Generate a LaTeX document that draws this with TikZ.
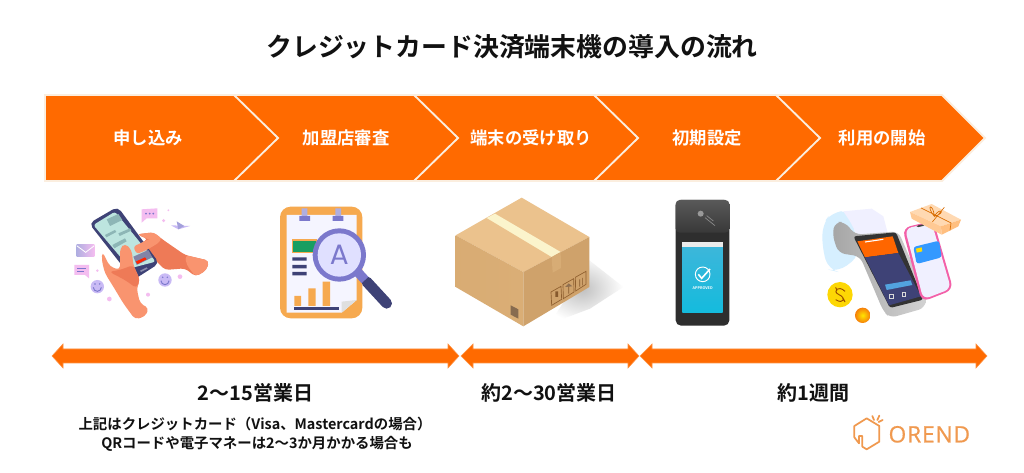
\documentclass[tikz,border=0pt]{standalone}
\usepackage{fontspec}
\setmainfont{Noto Sans CJK JP}[BoldFont={Noto Sans CJK JP Bold}]
\newfontfamily\logofont[LetterSpace=4,FakeBold=0.6]{Open Sans}
\newfontfamily\glyphfont{Poppins}
\usetikzlibrary{shadings}
\definecolor{orng}{HTML}{FF6A00}
\definecolor{cream}{HTML}{FBEEDF}
\definecolor{ink}{HTML}{111111}
\definecolor{skin}{HTML}{F9946F}
\definecolor{skindk}{HTML}{EE7A57}
\definecolor{navy}{HTML}{3E4276}
\definecolor{lila}{HTML}{C9BAF5}
\definecolor{pinkl}{HTML}{F4BDF0}
\definecolor{board}{HTML}{F6A94F}
\definecolor{purp}{HTML}{7B78CC}
\definecolor{boxtop}{HTML}{EBC28D}
\definecolor{boxleft}{HTML}{DAAE76}
\definecolor{boxright}{HTML}{CFA26B}
\definecolor{logoc}{HTML}{F0994F}
\definecolor{scrn}{HTML}{BDE5DF}
\definecolor{bubb}{HTML}{8DB6B6}
\definecolor{posa}{HTML}{3FB6DA}
\definecolor{posb}{HTML}{14BBDD}
\tikzset{
  chev/.style={fill=orng,draw=cream,line width=1.4pt,line join=miter},
  dur/.style={fill=orng,draw=orng!70!cream,line width=.4pt},
  steplabel/.style={text=white,font=\bfseries\fontsize{13pt}{14pt}\selectfont,inner sep=0pt},
  durlabel/.style={text=ink,font=\bfseries\fontsize{15pt}{17pt}\selectfont,inner sep=0pt},
  notelabel/.style={text=ink,font=\bfseries\fontsize{10.8pt}{15pt}\selectfont,inner sep=0pt,align=center},
  titlelabel/.style={text=ink,font=\bfseries\fontsize{19.4pt}{22pt}\selectfont,inner sep=0pt},
  zoomed/.style={scale=0.33333},
}
\begin{document}
\begin{tikzpicture}[x=.75pt,y=-.75pt]
\useasboundingbox (0,0) rectangle (1024,473);
\fill[white] (0,0) rectangle (1024,473);
\node[titlelabel] (title) at (512,47) {クレジットカード決済端末機の導入の流れ};
% chevrons, last first so each tip lies over the next
\draw[chev] (776,95)--(942,95)--(985,138)--(942,181)--(776,181)--cycle;
\draw[chev] (594,95)--(776,95)--(820,138)--(776,181)--(594,181)--cycle;
\draw[chev] (414,95)--(594,95)--(638,138)--(594,181)--(414,181)--cycle;
\draw[chev] (234,95)--(414,95)--(458,138)--(414,181)--(234,181)--cycle;
\draw[chev] (45,95)--(234,95)--(278,138)--(234,181)--(45,181)--cycle;
\node[steplabel] (s1) at (148,138) {申し込み};
\node[steplabel] (s2) at (346,138) {加盟店審査};
\node[steplabel] (s3) at (531,138) {端末の受け取り};
\node[steplabel] (s4) at (707,138) {初期設定};
\node[steplabel] (s5) at (882,138) {利用の開始};
% duration arrows
\draw[dur] (52,356)--(63,344)--(63,349)--(448,349)--(448,344)--(459,356)--(448,368)--(448,363)--(63,363)--(63,368)--cycle;
\draw[dur] (461,356)--(473,344)--(473,349)--(628,349)--(628,344)--(639,356)--(628,368)--(628,363)--(473,363)--(473,368)--cycle;
\draw[dur] (640,356)--(652,344)--(652,349)--(976,349)--(976,344)--(987,356)--(976,368)--(976,363)--(652,363)--(652,368)--cycle;
\node[durlabel] (d1) at (255.5,393) {2〜15営業日};
\node[durlabel] (d2) at (549,393) {約2〜30営業日};
\node[durlabel] (d3) at (813.5,393) {約1週間};
\node[notelabel] (n1) at (255,424) {上記はクレジットカード（Visa、Mastercardの場合）};
\node[notelabel] (n2) at (257,444) {QRコードや電子マネーは2〜3か月かかる場合も};
% illustration 1: phone and hands
\begin{scope}[shift={(65,200)},zoomed]
\fill[skindk,rounded corners=3pt] (215,103)--(265,97)--(295,120)--(360,165)--(432,182)--(425,210)--(392,230)--(360,205)--(300,210)--(270,180)--(248,150)--(215,160)--(205,140)--(250,118)--cycle;
\fill[skin,rounded corners=3pt] (360,165)--(432,182)--(425,210)--(392,230)--(365,195)--cycle;
\fill[skin,rounded corners=2pt] (218,103)--(265,97)--(290,115)--(280,130)--(250,118)--cycle;
\fill[navy,rounded corners=4pt] (72,70)--(158,20)--(283,190)--(205,240)--cycle;
\fill[scrn,rounded corners=2pt] (85,75)--(150,35)--(272,185)--(195,205)--cycle;
\fill[bubb] (125,58)--(160,42)--(172,60)--(135,78)--cycle;
\fill[bubb] (120,105)--(150,90)--(154,96)--(124,112)--cycle;
\fill[bubb] (160,100)--(195,85)--(199,92)--(164,108)--cycle;
\fill[bubb] (142,135)--(180,115)--(185,124)--(148,145)--cycle;
\fill[navy!65] (205,170)--(250,150)--(262,172)--(215,195)--cycle;
\fill[red!70!orange] (212,185)--(240,172)--(245,178)--(218,192)--cycle;
\fill[navy!60!white] (225,212)--(245,202)--(248,206)--(228,216)--cycle;
\fill[skin,rounded corners=2pt] (205,140)--(250,118)--(285,115)--(282,128)--(245,150)--(215,162)--cycle;
\fill[skin,rounded corners=3pt] (112,155)--(135,200)--(165,210)--(165,145)--(180,130)--(200,150)--(205,195)--(225,240)--(215,265)--(225,310)--(252,325)--(240,350)--(210,358)--(175,310)--(145,260)--(120,220)--(110,180)--cycle;
\fill[skindk,rounded corners=3pt] (132,215)--(165,210)--(205,195)--(225,240)--(215,265)--(180,240)--cycle;
\fill[pinkl] (230,28)--(277,25)--(277,55)--(245,55)--(230,68)--cycle;
\fill[purp] (243,41) circle[radius=3] (254,41) circle[radius=3] (265,41) circle[radius=3];
\fill[lila] (318,76)--(375,78)--(340,88)--cycle; \fill[purp!70] (335,64)--(358,78)--(340,88)--cycle;
\shade[left color=purp!60,right color=pinkl] (35,135)--(88,135)--(88,170)--(35,170)--cycle;
\draw[white,line width=.6pt] (35,137)--(62,157)--(88,137);
\fill[pinkl] (28,195)--(72,195)--(72,235)--(60,225)--(28,225)--cycle;
\draw[purp,line width=.6pt] (36,205)--(64,205) (36,214)--(58,214);
\fill[lila] (97,260) circle[radius=20] (300,240) circle[radius=20];
\draw[purp,line width=.7pt] (85,262) arc[start angle=180,end angle=0,radius=12] (288,242) arc[start angle=180,end angle=0,radius=12];
\fill[purp] (90,252) circle[radius=2.5] (104,252) circle[radius=2.5] (293,232) circle[radius=2.5] (307,232) circle[radius=2.5];
\fill[pinkl] (133,297) circle[radius=7] (97,212) circle[radius=4] (345,230) circle[radius=7] (249,284) circle[radius=6] (296,62) circle[radius=5] (310,31) circle[radius=3];
\end{scope}
% illustration 2: clipboard and magnifier
\begin{scope}[shift={(270,200)},zoomed]
\fill[board,rounded corners=8pt] (30,20) rectangle (277,355);
\fill[board!50!white] (120,44) rectangle (188,60);
\fill[white!96!blue] (50,45)--(260,45)--(260,300)--(215,338)--(50,338)--cycle;
\fill[gray!25] (260,300)--(215,338)--(215,305)--cycle;
\fill[purp] (88,48)--(120,48)--(120,63)--(88,63)--cycle (188,48)--(220,48)--(220,63)--(188,63)--cycle;
\fill[purp!60] (95,25) rectangle (112,48) (196,25) rectangle (213,48);
\draw[board,fill=green!30!teal!80!gray,line width=.8pt] (68,120) rectangle (140,158);
\fill[navy] (67,172) rectangle (110,182) (67,195) rectangle (110,205) (67,216) rectangle (110,226);
\fill[board] (73,288) rectangle (93,318) (115,265) rectangle (137,318) (158,245) rectangle (180,318);
\fill[navy] (72,320) rectangle (208,330);
\draw[navy,line width=8pt,line cap=round] (290,245)--(350,310);
\draw[purp,line width=7pt] (262,215)--(285,240);
\fill[purp] (208,165) circle[radius=80];
\fill[white!88!blue] (208,165) circle[radius=65];
\node[text=purp,font=\glyphfont\fontsize{21pt}{22pt}\selectfont,inner sep=0pt] (glyphA) at (208,163) {A};
\end{scope}
% illustration 3: cardboard box
\begin{scope}[shift={(450,192)},zoomed]
\begin{scope}
\clip (300,395)--(418,205)--(520,285)--(420,350)--cycle;
\shade[inner color=gray!50,outer color=white] (395,290) ellipse[x radius=125,y radius=100];
\end{scope}
\fill[boxtop] (215,17)--(418,135)--(220,240)--(17,130)--cycle;
\shade[left color=boxleft!95!brown,right color=boxleft] (17,130)--(220,240)--(220,403)--(17,285)--cycle;
\fill[boxright] (220,240)--(418,135)--(418,285)--(220,403)--cycle;
\fill[boxtop!60!yellow!30!white] (110,78)--(135,65)--(332,180)--(305,195)--cycle;
\fill[boxright!70!boxtop] (305,195)--(332,180)--(333,228)--(308,242)--cycle;
\draw[brown!75!black,line width=.5pt] (303,300)--(333,283)--(335,322)--(305,340)--cycle (339,278)--(371,260)--(372,300)--(340,320)--cycle (376,256)--(408,238)--(408,277)--(377,297)--cycle;
\fill[brown!70!black] (316,298) rectangle (324,315) (355,280) rectangle (357,305) (388,262) rectangle (390,284) (396,258) rectangle (398,280);
\fill[brown!60!black!80] (345,285)--(356,274)--(367,283)--cycle;
\fill[brown!55!black!80] (182,340)--(205,352)--(205,380)--(182,368)--cycle;
\end{scope}
% illustration 4: payment terminal
\begin{scope}[shift={(660,195)},zoomed]
\fill[black!82,rounded corners=4pt] (47,15) rectangle (208,392);
\shade[top color=black!65,bottom color=black!78,rounded corners=3pt] (47,15) rectangle (208,113);
\shade[top color=posa,bottom color=posb] (67,142) rectangle (188,352);
\fill[black!8] (67,142) rectangle (188,155);
\fill[black!40] (122,56) circle[radius=9];
\draw[black!45,line width=.5pt] (135,68)--(165,92) (140,62)--(160,78);
\draw[white,line width=.7pt] (128,238) circle[radius=22];
\draw[white,line width=1.2pt] (115,238)--(125,250)--(150,222);
\node[text=white,font=\bfseries\fontsize{2.8pt}{3pt}\selectfont,inner sep=0pt] (appr) at (128,278) {APPROVED};
\end{scope}
% illustration 5: terminal, phone, gift
\begin{scope}[shift={(815,198)},zoomed]
\fill[blue!40!cyan!16!white,rounded corners=8pt] (22,80)--(50,42)--(105,38)--(135,172)--(70,222)--(40,215)--(22,150)--cycle;
\fill[blue!6!white] (85,40)--(170,32)--(205,55)--(218,105)--(125,108)--(105,70)--cycle;
\shade[left color=gray!70,right color=gray!35,rounded corners=5pt] (52,110)--(60,72)--(90,72)--(120,110)--(250,100)--(335,295)--(330,330)--(225,360)--(205,340)--(135,175)--(70,165)--cycle;
\fill[black!80,rounded corners=2pt] (115,115)--(243,103)--(325,305)--(225,330)--cycle;
\fill[orange!80!red] (127,130)--(233,115)--(250,165)--(150,178)--cycle;
\fill[navy] (150,178)--(250,165)--(318,295)--(222,322)--cycle;
\fill[cyan!70!blue!70] (210,260)--(287,247)--(292,261)--(215,276)--cycle;
\draw[white!70!gray,line width=.5pt] (222,288) rectangle (236,302) (262,282) rectangle (272,296);
\draw[white,line width=.8pt] (150,132)--(205,124);
\fill[magenta!60!pink!90!white,rounded corners=6pt] (262,90)--(355,68)--(415,275)--(320,312)--cycle;
\fill[blue!6!white,rounded corners=5pt] (270,92)--(350,74)--(408,272)--(325,304)--cycle;
\fill[black!75,rounded corners=1pt] (305,83)--(328,78)--(329,83)--(306,88)--cycle;
\fill[blue!50!cyan!80,rounded corners=2pt] (295,147)--(372,128)--(380,178)--(305,198)--cycle;
\fill[yellow!80!orange] (303,152)--(320,148)--(322,160)--(305,164)--cycle;
\fill[orange!30!white] (285,42)--(350,18)--(438,65)--(378,85)--cycle;
\fill[orange!42!white] (285,42)--(378,85)--(380,110)--(290,62)--cycle;
\fill[orange!50!white] (378,85)--(438,65)--(430,85)--(380,110)--cycle;
\draw[orange!85!black,line width=.5pt] (318,30)--(408,75)--(405,97) (352,72)--(388,28) (358,55) .. controls (330,20) and (355,15) .. (358,55) .. controls (375,25) and (395,45) .. (358,55);
\fill[yellow!75!orange] (75,290) circle[radius=38];
\draw[orange!60!black,line width=.7pt] (90,280) .. controls (70,260) and (50,280) .. (72,290) .. controls (95,300) and (85,320) .. (62,305) (62,268)--(66,278) (85,302)--(90,312);
\shade[inner color=yellow!80!orange,outer color=orange!85!brown] (143,352) circle[radius=23];
\end{scope}
% logo
\begin{scope}[shift={(845,410)},zoomed]
\draw[logoc,line width=1.3pt,line join=round] (28,82)--(28,48)--(65,25)--(103,48)--(103,95)--(65,118)--(52,110)--(52,78)--(42,78)--(42,100)--cycle;
\draw[logoc,line width=1.3pt,line cap=round] (82,18)--(87,30) (103,17)--(97,30) (113,30)--(101,36);
\node[text=logoc,font=\logofont\fontsize{17pt}{18pt}\selectfont,inner sep=0pt,anchor=west] (logo) at (130,73) {OREND};
\end{scope}
\end{tikzpicture}
\end{document}
